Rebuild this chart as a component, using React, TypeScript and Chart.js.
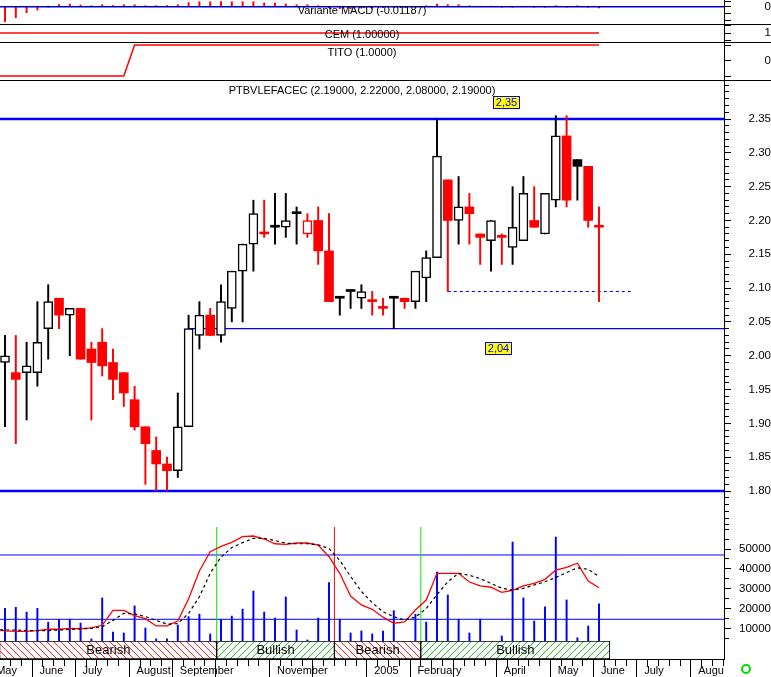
import React, { useEffect, useRef } from 'react';
import { Chart, registerables } from 'chart.js';

Chart.register(...registerables);

const FONT = '"Liberation Sans", Arial, Helvetica, sans-serif';

// Weekly candles, week 0 = week ending Fri 14 May 2004
const open = [1.99, 1.975, 1.975, 1.975, 2.04, 2.085, 2.06, 2.07, 2.01, 2.02, 1.99, 1.975, 1.935, 1.895, 1.86, 1.84, 1.83, 1.895, 2.03, 2.06, 2.03, 2.07, 2.125, 2.165, 2.18, 2.19, 2.19, 2.21, 2.18, 2.2, 2.155, 2.085, 2.095, 2.085, 2.08, 2.07, 2.085, 2.085, 2.08, 2.115, 2.145, 2.26, 2.2, 2.22, 2.18, 2.17, 2.175, 2.16, 2.17, 2.2, 2.18, 2.23, 2.325, 2.29, 2.28, 2.19];
const high = [2.03, 2.03, 2.02, 2.08, 2.105, 2.085, 2.07, 2.07, 2.02, 2.04, 2.01, 1.975, 1.955, 1.895, 1.88, 1.85, 1.945, 2.06, 2.08, 2.07, 2.105, 2.125, 2.165, 2.23, 2.23, 2.24, 2.24, 2.22, 2.21, 2.22, 2.21, 2.085, 2.095, 2.105, 2.095, 2.085, 2.085, 2.085, 2.125, 2.155, 2.35, 2.26, 2.265, 2.24, 2.18, 2.2, 2.18, 2.25, 2.265, 2.25, 2.24, 2.355, 2.355, 2.29, 2.28, 2.22];
const low = [1.895, 1.87, 1.905, 1.955, 1.995, 2.04, 2.0, 1.995, 1.905, 1.97, 1.935, 1.925, 1.89, 1.81, 1.8, 1.8, 1.82, 1.895, 2.01, 2.03, 2.02, 2.05, 2.05, 2.125, 2.175, 2.165, 2.175, 2.165, 2.175, 2.135, 2.08, 2.06, 2.07, 2.07, 2.06, 2.06, 2.04, 2.07, 2.07, 2.08, 2.145, 2.095, 2.165, 2.165, 2.135, 2.125, 2.135, 2.135, 2.17, 2.19, 2.18, 2.22, 2.22, 2.23, 2.19, 2.08];
const close = [2.0, 1.965, 1.985, 2.02, 2.08, 2.06, 2.07, 1.995, 1.99, 1.985, 1.965, 1.945, 1.895, 1.87, 1.84, 1.83, 1.895, 2.04, 2.06, 2.03, 2.08, 2.125, 2.165, 2.21, 2.18, 2.19, 2.2, 2.21, 2.2, 2.155, 2.08, 2.085, 2.095, 2.095, 2.08, 2.07, 2.085, 2.08, 2.125, 2.145, 2.295, 2.2, 2.22, 2.21, 2.175, 2.2, 2.175, 2.19, 2.24, 2.19, 2.24, 2.325, 2.23, 2.28, 2.2, 2.19];
const volume = [20200, 20700, 18300, 20200, 13200, 14700, 14700, 12800, 4800, 25400, 8300, 7800, 21400, 10300, 4800, 4800, 11800, 16000, 17300, 7300, 14700, 16300, 19800, 28900, 18300, 15300, 25900, 9300, 4300, 15300, 33100, 14700, 7800, 8800, 7300, 8800, 19000, 1500, 17200, 13300, 38400, 26900, 14700, 7800, 14700, 1500, 6300, 53500, 25400, 13800, 20900, 56000, 24400, 5400, 11300, 22400];
const macdHist = [-0.15, -0.11, -0.06, -0.033, -0.005, 0.02, 0.027, 0.017, 0.01, 0.02, 0.01, 0.02, 0.02, 0.01, 0.01, 0.01, 0.02, 0.04, 0.05, 0.05, 0.05, 0.05, 0.05, 0.05, 0.037, 0.037, 0.027, 0.02, 0.02, 0.01, -0.01, -0.02, -0.02, -0.015, -0.015, -0.01, -0.005, -0.005, -0.003, 0.01, 0.027, 0.02, 0.02, 0.01, 0.003, 0.003, -0.003, -0.003, 0.003, -0.003, -0.003, 0.01, -0.005, 0.01, -0.005, -0.01187];
// the following series start one week earlier (week -1)
const stochK = [10.7, 9.1, 8.8, 8.8, 9.4, 10.7, 10.7, 11.6, 11.2, 11.9, 14.4, 28.4, 28.4, 23.4, 20.6, 13.8, 13.8, 18.4, 39.2, 65.1, 83.1, 88.1, 91.8, 97.1, 97.7, 94.9, 90.5, 90.0, 91.2, 91.2, 89.3, 78.4, 62.9, 41.7, 33.4, 29.3, 22.0, 16.3, 17.5, 28.7, 38.0, 62.9, 62.9, 62.9, 54.8, 51.1, 49.9, 45.2, 47.1, 51.1, 53.6, 57.3, 66.0, 68.5, 72.3, 55.7, 49.5];
const stochD = [10.5, 10, 10, 9.5, 9.5, 9.5, 10, 10.5, 11, 11.5, 13, 19, 25.5, 25, 22.5, 19, 15.5, 16, 25.5, 41, 63, 78, 87, 91.5, 95.5, 95.5, 93.5, 91, 90.5, 90.5, 89.5, 86, 75, 60, 46, 35.5, 27, 22.5, 19.3, 22, 30, 43, 55, 63, 61, 58, 53.5, 49, 47.3, 48.9, 52, 55, 59, 63.6, 68, 66.6, 60];
const cemValues = [1, 1, 1, 1, 1, 1, 1, 1, 1, 1, 1, 1, 1, 1, 1, 1, 1, 1, 1, 1, 1, 1, 1, 1, 1, 1, 1, 1, 1, 1, 1, 1, 1, 1, 1, 1, 1, 1, 1, 1, 1, 1, 1, 1, 1, 1, 1, 1, 1, 1, 1, 1, 1, 1, 1, 1, 1];
const titoValues = [-1, -1, -1, -1, -1, -1, -1, -1, -1, -1, -1, -1, -1, 1, 1, 1, 1, 1, 1, 1, 1, 1, 1, 1, 1, 1, 1, 1, 1, 1, 1, 1, 1, 1, 1, 1, 1, 1, 1, 1, 1, 1, 1, 1, 1, 1, 1, 1, 1, 1, 1, 1, 1, 1, 1, 1, 1];

// time axis
const monthTickWeeks = [-1, 3, 7, 12, 16, 20, 25, 29, 34, 38, 42, 46, 51, 55, 59, 64];
const monthTickLabels = ['May', 'June', 'July', 'August', 'September', '', 'November', '', '2005', 'February', '', 'April', 'May', 'June', 'July', 'Augu'];
const priceTickLabels = ['1.80', '1.85', '1.90', '1.95', '2.00', '2.05', '2.10', '2.15', '2.20', '2.25', '2.30', '2.35'];
const volumeTickLabels = ['10000', '20000', '30000', '40000', '50000'];

// levels
const resistance = 2.35;
const support = 2.04;
const floorLevel = 1.8;
const recentLow = 2.095;
const stochUpper = 80;
const stochLower = 20;

// trend bands
const bandStarts = [-0.5, 19.6, 30.5, 38.5];
const bandEnds = [19.6, 30.5, 38.5, 56];
const bandTrend = ['Bearish', 'Bullish', 'Bearish', 'Bullish'];

const RED = '#ff0000';
const BLUE = '#0000ff';

function hatch(color: string, mirror: boolean) {
  const n = 7;
  const c = document.createElement('canvas');
  c.width = n;
  c.height = n;
  const g = c.getContext('2d')!;
  g.fillStyle = '#ffffff';
  g.fillRect(0, 0, n, n);
  g.fillStyle = color;
  for (let i = 0; i < n; i++) g.fillRect(mirror ? n - 1 - i : i, i, 1, 1);
  return g.createPattern(c, 'repeat');
}

function tag(ctx: CanvasRenderingContext2D, text: string, cx: number, cy: number) {
  ctx.font = `11px ${FONT}`;
  const w = Math.round(ctx.measureText(text).width + 6);
  const h = 13;
  const l = Math.round(cx - w / 2);
  const t = Math.round(cy - h / 2);
  ctx.fillStyle = '#ffff00';
  ctx.fillRect(l, t, w, h);
  ctx.strokeStyle = BLUE;
  ctx.lineWidth = 1;
  ctx.strokeRect(l + 0.5, t + 0.5, w - 1, h - 1);
  ctx.fillStyle = BLUE;
  ctx.textAlign = 'center';
  ctx.textBaseline = 'middle';
  ctx.fillText(text, l + w / 2, t + h / 2 + 0.5);
}

export default function App() {
  const ref = useRef<HTMLCanvasElement>(null);

  useEffect(() => {
    const canvas = ref.current!;
    const weeks = open.map((_, i) => i);
    const prevWeeks = [-1, ...weeks];
    const last = weeks.length - 1;
    const colorOf = (i: number) => (i > 0 && close[i] < close[i - 1] ? RED : '#000000');
    const candleColor = weeks.map(colorOf);
    const hollow = weeks.map((i) => close[i] > open[i]);

    const redHatch = hatch('#ff2020', false);
    const greenHatch = hatch('#20c020', true);

    const span = (y: number, from = -1, to = 67) => [
      { x: from, y },
      { x: to, y },
    ];
    const line = (extra: any) => ({
      type: 'line',
      pointRadius: 0,
      tension: 0,
      fill: false,
      borderWidth: 1,
      ...extra,
    });

    const isMajorPrice = (v: number) => priceTickLabels.includes(v.toFixed(2));

    const yAxis = (extra: any, pad: number) => ({
      type: 'linear',
      position: 'right',
      stack: 'panels',
      offset: false,
      grid: {
        drawOnChartArea: false,
        drawTicks: true,
        tickLength: 7,
        color: '#000',
        tickColor: '#000',
        tickWidth: 1,
      },
      border: { display: true, color: '#000', width: 1 },
      ticks: {
        color: '#000',
        font: { family: FONT, size: 11.5 },
        crossAlign: 'far',
        padding: pad,
        autoSkip: false,
      },
      afterFit: (s: any) => {
        s.width = 47;
        s.paddingTop = 0;
        s.paddingBottom = 0;
      },
      ...extra,
    });

    const overlay = {
      id: 'overlay',
      afterDatasetsDraw(chart: any) {
        const ctx = chart.ctx;
        const idx = chart.data.datasets.findIndex((d: any) => d.label === 'trend');
        const meta = chart.getDatasetMeta(idx);
        const area = chart.chartArea;
        ctx.save();
        ctx.font = `13px ${FONT}`;
        ctx.fillStyle = '#000';
        ctx.textAlign = 'center';
        ctx.textBaseline = 'middle';
        meta.data.forEach((el: any, i: number) => {
          const l = Math.max(Math.min(el.x, el.base), area.left);
          const r = Math.min(Math.max(el.x, el.base), area.right);
          ctx.fillText(bandTrend[i], (l + r) / 2, el.y + 0.5);
        });
        ctx.restore();
      },
      afterDraw(chart: any) {
        const { ctx, scales, width, chartArea } = chart;
        ctx.save();
        ctx.strokeStyle = '#000';
        ctx.lineWidth = 1;
        for (const id of ['yMacd', 'yCem', 'yTito']) {
          const y = Math.round(scales[id].bottom) + 0.5;
          ctx.beginPath();
          ctx.moveTo(0, y);
          ctx.lineTo(width, y);
          ctx.stroke();
        }
        const cx = (chartArea.left + chartArea.right) / 2;
        ctx.font = `11px ${FONT}`;
        ctx.fillStyle = '#000';
        ctx.textAlign = 'center';
        ctx.textBaseline = 'middle';
        const titles: [string, string][] = [
          ['yMacd', `Variante MACD (${macdHist[last].toFixed(5)})`],
          ['yCem', `CEM (${cemValues[cemValues.length - 1].toFixed(5)})`],
          ['yTito', `TITO (${titoValues[titoValues.length - 1].toFixed(4)})`],
          [
            'yPrice',
            `PTBVLEFACEC (${open[last].toFixed(5)}, ${high[last].toFixed(5)}, ${low[last].toFixed(5)}, ${close[last].toFixed(5)})`,
          ],
        ];
        for (const [id, text] of titles) ctx.fillText(text, cx, scales[id].top + 10.5);

        const xs = scales.x;
        const yp = scales.yPrice;
        tag(ctx, resistance.toFixed(2).replace('.', ','), xs.getPixelForValue(46.4), yp.getPixelForValue(resistance) - 17);
        tag(ctx, support.toFixed(2).replace('.', ','), xs.getPixelForValue(45.65), yp.getPixelForValue(support) + 20);

        ctx.strokeStyle = '#00dd00';
        ctx.lineWidth = 2;
        ctx.beginPath();
        ctx.arc(746, 669, 4, 0, Math.PI * 2);
        ctx.stroke();
        ctx.restore();
      },
    };

    const chart = new Chart(canvas, {
      type: 'bar',
      data: {
        datasets: [
          {
            label: 'trend',
            type: 'bar',
            indexAxis: 'y',
            xAxisID: 'x',
            yAxisID: 'yBand',
            data: bandStarts.map((s, i) => ({ x: [s, bandEnds[i]], y: 0 })),
            backgroundColor: bandTrend.map((t) => (t === 'Bearish' ? redHatch : greenHatch)),
            borderColor: '#000',
            borderWidth: 1,
            borderSkipped: false,
            barThickness: 18,
            grouped: false,
            order: 0,
          },
          {
            label: 'bodies',
            type: 'bar',
            yAxisID: 'yPrice',
            data: weeks.map((i) => ({ x: i, y: [Math.min(open[i], close[i]), Math.max(open[i], close[i])] })),
            backgroundColor: weeks.map((i) => (hollow[i] ? '#ffffff' : candleColor[i])),
            borderColor: candleColor,
            borderWidth: weeks.map((i) => (hollow[i] ? 1.5 : 0)),
            borderSkipped: false,
            barThickness: 9,
            minBarLength: 2,
            grouped: false,
            order: 1,
          },
          {
            label: 'wicks',
            type: 'bar',
            yAxisID: 'yPrice',
            data: weeks.map((i) => ({ x: i, y: [low[i], high[i]] })),
            backgroundColor: candleColor,
            barThickness: 1.3,
            grouped: false,
            order: 2,
          },
          line({ label: 'res', yAxisID: 'yPrice', data: span(resistance), borderColor: BLUE, borderWidth: 2.5, order: 3 }),
          line({ label: 'floor', yAxisID: 'yPrice', data: span(floorLevel), borderColor: BLUE, borderWidth: 2.5, order: 3 }),
          line({ label: 'support', yAxisID: 'yPrice', data: span(support, 17), borderColor: BLUE, borderWidth: 1.2, order: 3 }),
          line({ label: 'recentLow', yAxisID: 'yPrice', data: span(recentLow, 41, 58), borderColor: BLUE, borderWidth: 1, borderDash: [3, 3], order: 3 }),
          {
            label: 'macd',
            type: 'bar',
            yAxisID: 'yMacd',
            data: weeks.map((i) => ({ x: i, y: macdHist[i] })),
            backgroundColor: RED,
            barThickness: 1.3,
            grouped: false,
            order: 4,
          },
          line({ label: 'macdZero', yAxisID: 'yMacd', data: span(0), borderColor: '#0000cc', borderWidth: 1.5, order: 3 }),
          line({ label: 'cem', yAxisID: 'yCem', data: prevWeeks.map((w, k) => ({ x: w, y: cemValues[k] })), borderColor: RED, borderWidth: 1.5, order: 3 }),
          line({ label: 'tito', yAxisID: 'yTito', data: prevWeeks.map((w, k) => ({ x: w, y: titoValues[k] })), borderColor: RED, borderWidth: 1.5, order: 3 }),
          line({ label: 'stUp', yAxisID: 'yStoch', data: span(stochUpper), borderColor: BLUE, borderWidth: 1, order: 6 }),
          line({ label: 'stLow', yAxisID: 'yStoch', data: span(stochLower), borderColor: BLUE, borderWidth: 1, order: 6 }),
          {
            label: 'volume',
            type: 'bar',
            yAxisID: 'yVol',
            data: weeks.map((i) => ({ x: i, y: volume[i] })),
            backgroundColor: BLUE,
            barThickness: 1.3,
            grouped: false,
            order: 5,
          },
          line({ label: 'buy1', yAxisID: 'yStoch', data: [{ x: bandStarts[1], y: -0.3 }, { x: bandStarts[1], y: 106.1 }], borderColor: '#00ee00', borderWidth: 1, order: 4 }),
          line({ label: 'sell', yAxisID: 'yStoch', data: [{ x: bandStarts[2], y: -0.3 }, { x: bandStarts[2], y: 106.1 }], borderColor: RED, borderWidth: 1, order: 4 }),
          line({ label: 'buy2', yAxisID: 'yStoch', data: [{ x: bandStarts[3], y: -0.3 }, { x: bandStarts[3], y: 106.1 }], borderColor: '#00ee00', borderWidth: 1, order: 4 }),
          line({ label: '%D', yAxisID: 'yStoch', data: prevWeeks.map((w, k) => ({ x: w, y: stochD[k] })), borderColor: '#000', borderWidth: 1.2, borderDash: [3, 3], order: 3 }),
          line({ label: '%K', yAxisID: 'yStoch', data: prevWeeks.map((w, k) => ({ x: w, y: stochK[k] })), borderColor: RED, borderWidth: 1.3, order: 3 }),
        ] as any,
      },
      options: {
        responsive: false,
        maintainAspectRatio: false,
        animation: false,
        devicePixelRatio: 1,
        events: [],
        layout: { padding: 0 },
        plugins: { legend: { display: false }, tooltip: { enabled: false }, title: { display: false } },
        scales: {
          x: {
            type: 'linear',
            position: 'bottom',
            min: -0.463,
            max: 66.574,
            offset: false,
            grid: {
              drawOnChartArea: false,
              drawTicks: true,
              tickLength: 18,
              color: '#000',
              tickColor: '#000',
              tickBorderDash: (c: any) => (c.tick && monthTickWeeks.includes(c.tick.value) ? [] : [6, 40]),
            },
            border: { display: true, color: '#000', width: 1 },
            ticks: {
              color: '#000',
              font: { family: FONT, size: 11 },
              align: 'start',
              labelOffset: 2,
              padding: -13,
              autoSkip: false,
              maxRotation: 0,
              minRotation: 0,
              callback: (v: any) => {
                const k = monthTickWeeks.indexOf(Number(v));
                return k >= 0 ? monthTickLabels[k] : '';
              },
            },
            afterBuildTicks: (s: any) => {
              const t = [];
              for (let w = -1; w <= 66; w++) t.push({ value: w });
              s.ticks = t;
            },
            afterFit: (s: any) => {
              s.height = 18;
              s.paddingLeft = 0;
              s.paddingRight = 0;
            },
          },
          yMacd: yAxis(
            {
              stackWeight: 24,
              min: -0.173,
              max: 0.067,
              afterBuildTicks: (s: any) => {
                s.ticks = [-0.14, -0.07, 0, 0.05].map((value) => ({ value }));
              },
              ticks: { color: '#000', font: { family: FONT, size: 11.5 }, crossAlign: 'far', padding: 30, autoSkip: false, callback: (v: any) => (Number(v) === 0 ? '0' : '') },
            },
            30
          ),
          yCem: yAxis(
            {
              stackWeight: 18,
              min: 0.5,
              max: 1.5,
              afterBuildTicks: (s: any) => {
                s.ticks = [0.6, 1, 1.4].map((value) => ({ value }));
              },
              ticks: { color: '#000', font: { family: FONT, size: 11.5 }, crossAlign: 'far', padding: 30, autoSkip: false, callback: (v: any) => (Number(v) === 1 ? '1' : '') },
            },
            30
          ),
          yTito: yAxis(
            {
              stackWeight: 38,
              min: -1.258,
              max: 1.194,
              afterBuildTicks: (s: any) => {
                s.ticks = [-1, 0, 1].map((value) => ({ value }));
              },
              ticks: { color: '#000', font: { family: FONT, size: 11.5 }, crossAlign: 'far', padding: 30, autoSkip: false, callback: (v: any) => (Number(v) === 0 ? '0' : '') },
            },
            30
          ),
          yPrice: yAxis(
            {
              stackWeight: 446,
              min: 1.74829,
              max: 2.40766,
              grid: {
                drawOnChartArea: false,
                drawTicks: true,
                tickLength: 7,
                color: '#000',
                tickColor: '#000',
                tickBorderDash: (c: any) => (c.tick && isMajorPrice(c.tick.value) ? [] : [4, 40]),
              },
              afterBuildTicks: (s: any) => {
                const t = [];
                for (let k = 175; k <= 240; k++) t.push({ value: k / 100 });
                s.ticks = t;
              },
              ticks: {
                color: '#000',
                font: { family: FONT, size: 11.5 },
                crossAlign: 'far',
                padding: 14,
                autoSkip: false,
                callback: (v: any) => (isMajorPrice(Number(v)) ? Number(v).toFixed(2) : ''),
              },
            },
            14
          ),
          yVol: yAxis(
            {
              stackWeight: 115,
              min: 3769,
              max: 61558,
              grid: {
                drawOnChartArea: false,
                drawTicks: true,
                tickLength: 7,
                color: '#000',
                tickColor: '#000',
                tickBorderDash: (c: any) => (c.tick && volumeTickLabels.includes(String(c.tick.value)) ? [] : [4, 40]),
              },
              afterBuildTicks: (s: any) => {
                const t = [];
                for (let k = 1; k <= 12; k++) t.push({ value: k * 5000 });
                s.ticks = t;
              },
              ticks: {
                color: '#000',
                font: { family: FONT, size: 11.5 },
                crossAlign: 'far',
                padding: 4,
                autoSkip: false,
                callback: (v: any) => (volumeTickLabels.includes(String(v)) ? String(v) : ''),
              },
            },
            4
          ),
          yBand: yAxis(
            {
              stackWeight: 18,
              min: -1,
              max: 1,
              grid: { drawOnChartArea: false, drawTicks: false },
              ticks: { display: false },
              afterBuildTicks: (s: any) => {
                s.ticks = [];
              },
            },
            0
          ),
          yStoch: {
            type: 'linear',
            position: 'right',
            display: false,
            min: -17.05,
            max: 597.89,
            afterFit: (s: any) => {
              s.width = 0;
              s.paddingTop = 0;
              s.paddingBottom = 0;
            },
          },
        } as any,
      },
      plugins: [overlay],
    } as any);

    return () => chart.destroy();
  }, []);

  return (
    <div style={{ position: 'absolute', left: 0, top: 0, width: 771, height: 677, background: '#ffffff' }}>
      <canvas ref={ref} width={771} height={677} style={{ display: 'block', width: 771, height: 677 }} />
    </div>
  );
}
